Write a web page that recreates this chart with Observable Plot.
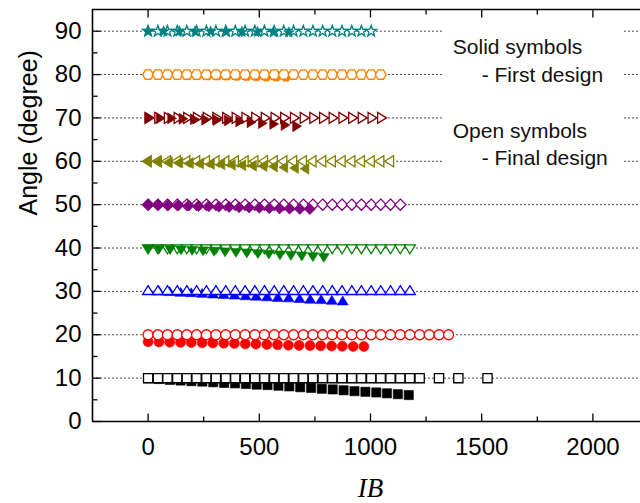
<!DOCTYPE html>
<html>
<head>
<meta charset="utf-8">
<script src="https://cdn.jsdelivr.net/npm/d3@7"></script>
<script src="https://cdn.jsdelivr.net/npm/@observablehq/plot@0.6"></script>
<style>
  html, body { margin: 0; padding: 0; background: #fff; overflow: hidden; }
  svg { display: block; }
</style>
</head>
<body>
<div id="chart"></div>
<script>
// ---- Data ---------------------------------------------------------------
const angles = [90, 80, 70, 60, 50, 40, 30, 20, 10];
const seriesColors = ["#008080", "#ff8000", "#800000", "#808000", "#800080", "#008000", "#0000ff", "#ff0000", "#000000"];
const seriesSymbols = ["star", "hexagon", "triangleRight", "triangleLeft", "diamond", "triangleDown", "triangleUp", "circle", "square"];
// which runs have the open (final design) layer drawn above the solid one
const openOnTop = [false, true, false, false, false, false, true, true, true];

// Final design (open symbols): IB grid, and how many grid points each angle uses
const ibFinal = [0, 44, 87, 131, 174, 218, 262, 305, 349, 392, 436, 480, 523, 567, 610, 654, 698, 741, 785, 828, 872, 916, 959, 1003, 1046, 1090, 1134, 1177, 1221, 1264, 1308, 1351];
const finalCounts = [24, 25, 25, 26, 27, 28, 28, 32];
const ibFinal10 = [0, 44, 87, 131, 174, 218, 262, 305, 349, 392, 436, 480, 523, 567, 610, 654, 698, 741, 785, 828, 872, 916, 959, 1003, 1046, 1090, 1134, 1177, 1221, 1308, 1395, 1526];

// First design (solid symbols)
const ibFirst90 = [0, 70, 141, 211, 281, 352, 422, 492, 563, 633];
const angFirst90 = [90, 89.95, 89.95, 89.9, 89.9, 89.85, 89.8, 89.8, 89.75, 89.7];
const ibFirst80 = [0, 44, 89, 133, 177, 221, 266, 310, 354, 399, 443, 487, 531, 576, 620];
const angFirst80 = [80, 80, 79.95, 79.95, 79.9, 79.9, 79.85, 79.8, 79.8, 79.75, 79.7, 79.65, 79.6, 79.6, 79.55];
const ibFirst70 = [0, 51, 102, 153, 204, 255, 306, 357, 408, 459, 510, 561, 612, 664];
const angFirst70 = [70, 69.95, 69.9, 69.8, 69.7, 69.6, 69.5, 69.4, 69.2, 69.0, 68.8, 68.6, 68.35, 68.1];
const ibFirst60 = [0, 47, 95, 142, 189, 236, 284, 331, 378, 425, 473, 520, 567, 614, 662, 709];
const angFirst60 = [60, 59.9, 59.8, 59.7, 59.6, 59.5, 59.4, 59.3, 59.2, 59.1, 59.0, 58.9, 58.8, 58.6, 58.45, 58.3];
const ibFirst50 = [0, 45, 91, 136, 182, 227, 273, 318, 364, 409, 454, 500, 545, 591, 636, 682, 727];
const angFirst50 = [50, 49.95, 49.9, 49.85, 49.8, 49.7, 49.65, 49.55, 49.5, 49.4, 49.35, 49.3, 49.2, 49.15, 49.1, 49.05, 49.0];
const ibFirst40 = [0, 49, 99, 148, 198, 247, 296, 346, 395, 444, 494, 543, 593, 642, 691, 741, 790];
const angFirst40 = [40, 39.95, 39.85, 39.75, 39.65, 39.55, 39.45, 39.3, 39.2, 39.05, 38.9, 38.8, 38.6, 38.5, 38.35, 38.2, 38.05];
const ibFirst30 = [0, 49, 97, 146, 194, 243, 292, 340, 389, 438, 486, 535, 583, 632, 681, 729, 778, 826, 875];
const angFirst30 = [30, 29.9, 29.75, 29.6, 29.5, 29.35, 29.2, 29.1, 28.95, 28.8, 28.7, 28.55, 28.4, 28.3, 28.15, 28.0, 27.9, 27.75, 27.6];
const ibFirst20 = [0, 49, 97, 146, 194, 243, 291, 340, 388, 437, 485, 534, 582, 631, 679, 728, 776, 825, 873, 922, 970];
const angFirst20 = [18.4, 18.35, 18.3, 18.25, 18.2, 18.15, 18.1, 18.05, 18.0, 17.9, 17.85, 17.75, 17.7, 17.6, 17.55, 17.5, 17.45, 17.4, 17.35, 17.3, 17.3];
const ibFirst10 = [0, 49, 98, 146, 195, 244, 293, 342, 391, 440, 488, 537, 586, 635, 684, 733, 781, 830, 879, 928, 977, 1026, 1074, 1123, 1172];
const angFirst10 = [10, 9.8, 9.6, 9.45, 9.3, 9.2, 9.05, 8.9, 8.8, 8.65, 8.5, 8.4, 8.25, 8.1, 7.9, 7.75, 7.55, 7.4, 7.2, 7.0, 6.85, 6.7, 6.5, 6.3, 6.1];

const firstIB = [ibFirst90, ibFirst80, ibFirst70, ibFirst60, ibFirst50, ibFirst40, ibFirst30, ibFirst20, ibFirst10];
const firstAng = [angFirst90, angFirst80, angFirst70, angFirst60, angFirst50, angFirst40, angFirst30, angFirst20, angFirst10];

// Axis ticks
const xMajor = [0, 500, 1000, 1500, 2000];
const xMinor = [250, 750, 1250, 1750];
const yMajor = [0, 10, 20, 30, 40, 50, 60, 70, 80, 90];
const yMinor = [5, 15, 25, 35, 45, 55, 65, 75, 85];

// ---- Marker shapes --------------------------------------------------------
function polygon(pts) {
  return {
    draw(ctx, size) {
      const r = Math.sqrt(size / Math.PI);
      ctx.moveTo(pts[0][0] * r, pts[0][1] * r);
      for (let i = 1; i < pts.length; ++i) ctx.lineTo(pts[i][0] * r, pts[i][1] * r);
      ctx.closePath();
    }
  };
}
const starPts = [];
for (let k = 0; k < 10; ++k) {
  const a = -Math.PI / 2 + k * Math.PI / 5, rr = k % 2 ? 0.47 : 1.15;
  starPts.push([rr * Math.cos(a), rr * Math.sin(a)]);
}
const hexPts = [];
for (let k = 0; k < 6; ++k) {
  const a = k * Math.PI / 3;
  hexPts.push([1.08 * Math.cos(a), 1.08 * Math.sin(a)]);
}
const shapes = {
  star: polygon(starPts),
  hexagon: polygon(hexPts),
  triangleUp: polygon([[0, -1.15], [1.1, 0.62], [-1.1, 0.62]]),
  triangleDown: polygon([[0, 1.15], [1.1, -0.62], [-1.1, -0.62]]),
  triangleRight: polygon([[1.15, 0], [-0.62, -1.1], [-0.62, 1.1]]),
  triangleLeft: polygon([[-1.15, 0], [0.62, -1.1], [0.62, 1.1]]),
  diamond: polygon([[0, -1.12], [1.12, 0], [0, 1.12], [-1.12, 0]]),
  square: polygon([[-0.92, -0.92], [0.92, -0.92], [0.92, 0.92], [-0.92, 0.92]]),
  circle: {draw(ctx, size) { const r = Math.sqrt(size / Math.PI); ctx.moveTo(r, 0); ctx.arc(0, 0, r, 0, 2 * Math.PI); }}
};
// Tick marks drawn as short strokes pointing into the plot
const tick = (dx, dy) => ({draw(ctx) { ctx.moveTo(0, 0); ctx.lineTo(dx, dy); }});

// ---- Marks ----------------------------------------------------------------
const marks = [];
const FONT = "'Liberation Sans', Arial, sans-serif";

// dotted grid lines
marks.push(Plot.ruleY(yMajor.slice(1), {stroke: "#4a4a4a", strokeWidth: 1, strokeDasharray: "2,2"}));
// white backing behind the annotation
marks.push(Plot.rect([0], {x1: 1330, x2: 2135, y1: 57.5, y2: 92.2, fill: "white"}));

angles.forEach((angle, i) => {
  const color = seriesColors[i];
  const shape = shapes[seriesSymbols[i]];
  const first = firstIB[i].map((ib, j) => ({ib, angle: firstAng[i][j]}));
  const finalIB = i < 8 ? ibFinal.slice(0, finalCounts[i]) : ibFinal10;
  const final = finalIB.map(ib => ({ib, angle}));
  const solidDots = Plot.dot(first, {x: "ib", y: "angle", r: 5, symbol: shape, fill: color, stroke: color, strokeWidth: 0.6});
  const openDots = Plot.dot(final, {x: "ib", y: "angle", r: 5, symbol: shape, fill: "white", stroke: color, strokeWidth: 1.3});
  if (openOnTop[i]) marks.push(solidDots, openDots);
  else marks.push(openDots, solidDots);
});

// frame lines (the right side runs past the window edge)
marks.push(Plot.ruleY([0, 95], {stroke: "black", strokeWidth: 1.6}));
marks.push(Plot.ruleX([-250], {y1: 0, y2: 95, stroke: "black", strokeWidth: 1.6}));

// ticks
marks.push(Plot.dot(xMajor, {x: d => d, y: 0, symbol: tick(0, -8), stroke: "black", fill: "none", strokeWidth: 1.3}));
marks.push(Plot.dot(xMinor, {x: d => d, y: 0, symbol: tick(0, -5), stroke: "black", fill: "none", strokeWidth: 1.3}));
marks.push(Plot.dot(xMajor, {x: d => d, y: 95, symbol: tick(0, 8), stroke: "black", fill: "none", strokeWidth: 1.3}));
marks.push(Plot.dot(xMinor, {x: d => d, y: 95, symbol: tick(0, 5), stroke: "black", fill: "none", strokeWidth: 1.3}));
marks.push(Plot.dot(yMajor, {x: -250, y: d => d, symbol: tick(8, 0), stroke: "black", fill: "none", strokeWidth: 1.3}));
marks.push(Plot.dot(yMinor, {x: -250, y: d => d, symbol: tick(5, 0), stroke: "black", fill: "none", strokeWidth: 1.3}));

// tick labels
marks.push(Plot.text(xMajor, {x: d => d, y: 0, dy: 26, text: d => String(d), fontSize: 24, fontFamily: FONT, fill: "black"}));
marks.push(Plot.text(yMajor, {x: -250, y: d => d, dx: -11, text: d => String(d), textAnchor: "end", fontSize: 24, fontFamily: FONT, fill: "black"}));

// axis titles
marks.push(Plot.text(["Angle (degree)"], {frameAnchor: "left", dx: -64, rotate: -90, text: d => d, fontSize: 25, fontFamily: FONT, fill: "black"}));
marks.push(Plot.text(["IB"], {x: 1000, y: 0, dy: 67, text: d => d, fontSize: 27, fontStyle: "italic", fontFamily: "'Liberation Serif', 'Times New Roman', serif", fill: "black"}));

// annotation
marks.push(Plot.text(["Solid symbols"], {x: 1370, y: 86.2, text: d => d, textAnchor: "start", fontSize: 21, fontFamily: FONT, fill: "#111"}));
marks.push(Plot.text(["- First design"], {x: 1500, y: 79.8, text: d => d, textAnchor: "start", fontSize: 21, fontFamily: FONT, fill: "#111"}));
marks.push(Plot.text(["Open symbols"], {x: 1370, y: 67.0, text: d => d, textAnchor: "start", fontSize: 21, fontFamily: FONT, fill: "#111"}));
marks.push(Plot.text(["- Final design"], {x: 1500, y: 60.8, text: d => d, textAnchor: "start", fontSize: 21, fontFamily: FONT, fill: "#111"}));

const chart = Plot.plot({
  width: 640,
  height: 503,
  marginLeft: 92,
  marginRight: 0,
  marginTop: 9,
  marginBottom: 82,
  style: {background: "white", fontFamily: FONT},
  x: {domain: [-250, 2250], range: [92, 648], axis: null},
  y: {domain: [0, 95], range: [421, 9], axis: null},
  marks
});
document.getElementById("chart").appendChild(chart);
</script>
</body>
</html>
